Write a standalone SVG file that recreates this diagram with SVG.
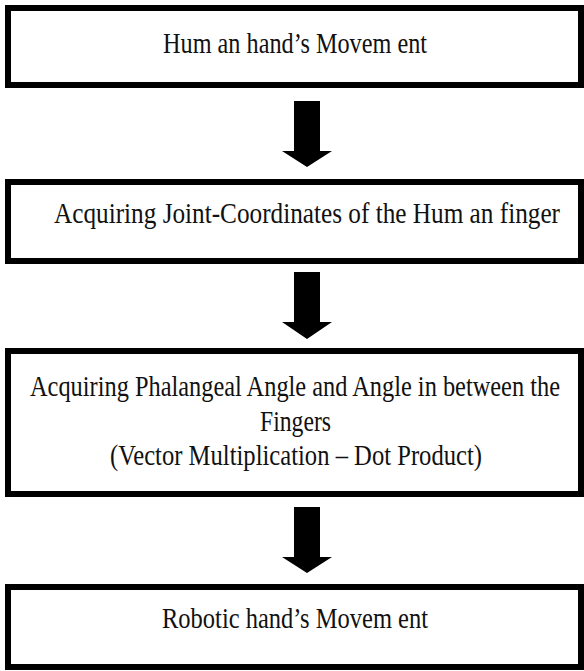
<svg xmlns="http://www.w3.org/2000/svg" width="584" height="671" viewBox="0 0 584 671">
<style>
.box{fill:#fff;stroke:#000;stroke-width:6}
.t{font-family:"Liberation Serif","Times New Roman",serif;font-size:24px;fill:#111}
.arr{fill:#000}
</style>
<rect width="584" height="671" fill="#fff"/>
<g id="connectors">
<polygon class="arr" points="294,101 320,101 320,151 332,151 307,167 282,151 294,151"/>
<polygon class="arr" points="294,272 320,272 320,322 332,322 307,339 282,322 294,322"/>
<polygon class="arr" points="294,507 320,507 320,557 332,557 307,573 282,557 294,557"/>
</g>
<g id="node1">
<rect class="box" x="8" y="8" width="573" height="77"/>
<text class="t" transform="translate(163,53) scale(1,1.25)" textLength="264" lengthAdjust="spacingAndGlyphs">Hum an hand’s Movem ent</text>
</g>
<g id="node2">
<rect class="box" x="8" y="182" width="573" height="79"/>
<text class="t" transform="translate(54,223) scale(1,1.25)" textLength="506" lengthAdjust="spacingAndGlyphs">Acquiring Joint-Coordinates of the Hum an finger</text>
</g>
<g id="node3">
<rect class="box" x="8" y="351" width="573" height="143"/>
<text class="t" transform="translate(30,396) scale(1,1.25)" textLength="530" lengthAdjust="spacingAndGlyphs">Acquiring Phalangeal Angle and Angle in between the</text>
<text class="t" transform="translate(260,431) scale(1,1.25)" textLength="71" lengthAdjust="spacingAndGlyphs">Fingers</text>
<text class="t" transform="translate(110,465) scale(1,1.25)" textLength="372" lengthAdjust="spacingAndGlyphs">(Vector Multiplication – Dot Product)</text>
</g>
<g id="node4">
<rect class="box" x="8" y="587" width="573" height="80"/>
<text class="t" transform="translate(162,628) scale(1,1.25)" textLength="266" lengthAdjust="spacingAndGlyphs">Robotic hand’s Movem ent</text>
</g>
</svg>
